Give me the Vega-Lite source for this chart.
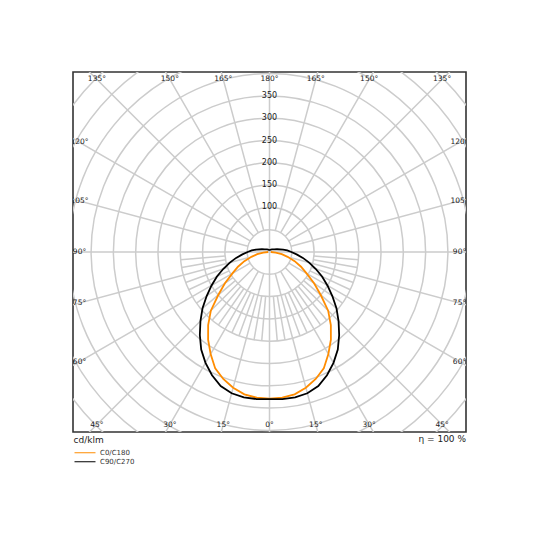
{
  "$schema": "https://vega.github.io/schema/vega-lite/v6.json",
  "width": 393,
  "height": 360,
  "autosize": {"type": "none"},
  "padding": {"left": 73, "top": 72, "right": 74, "bottom": 108},
  "background": "white",
  "title": {
    "text": "η = 100 %",
    "orient": "bottom",
    "anchor": "end",
    "frame": "group",
    "fontSize": 9,
    "fontWeight": "normal",
    "color": "#222222",
    "offset": -31
  },
  "config": {
    "font": "DejaVu Sans",
    "view": {"stroke": "#333333", "strokeWidth": 1.6}
  },
  "datasets": {
    "rings": [
      {"r": 50}, {"r": 100}, {"r": 150}, {"r": 200}, {"r": 250}, {"r": 300},
      {"r": 350}, {"r": 400}, {"r": 450}, {"r": 500}, {"r": 550}, {"r": 600}
    ],
    "spokes": [
      {"a": 0, "r0": 0, "r1": 650}, {"a": 15, "r0": 50, "r1": 650}, {"a": 30, "r0": 50, "r1": 650},
      {"a": 45, "r0": 50, "r1": 650}, {"a": 60, "r0": 50, "r1": 650}, {"a": 75, "r0": 50, "r1": 650},
      {"a": 90, "r0": 0, "r1": 650}, {"a": 95, "r0": 100, "r1": 200}, {"a": 100, "r0": 100, "r1": 200},
      {"a": 105, "r0": 50, "r1": 650}, {"a": 110, "r0": 100, "r1": 200}, {"a": 115, "r0": 100, "r1": 200},
      {"a": 120, "r0": 50, "r1": 650}, {"a": 125, "r0": 100, "r1": 200}, {"a": 130, "r0": 100, "r1": 200},
      {"a": 135, "r0": 50, "r1": 650}, {"a": 140, "r0": 100, "r1": 200}, {"a": 145, "r0": 100, "r1": 200},
      {"a": 150, "r0": 50, "r1": 650}, {"a": 155, "r0": 100, "r1": 200}, {"a": 160, "r0": 100, "r1": 200},
      {"a": 165, "r0": 50, "r1": 650}, {"a": 170, "r0": 100, "r1": 200}, {"a": 175, "r0": 100, "r1": 200},
      {"a": 180, "r0": 0, "r1": 650}, {"a": 185, "r0": 100, "r1": 200}, {"a": 190, "r0": 100, "r1": 200},
      {"a": 195, "r0": 50, "r1": 650}, {"a": 200, "r0": 100, "r1": 200}, {"a": 205, "r0": 100, "r1": 200},
      {"a": 210, "r0": 50, "r1": 650}, {"a": 215, "r0": 100, "r1": 200}, {"a": 220, "r0": 100, "r1": 200},
      {"a": 225, "r0": 50, "r1": 650}, {"a": 230, "r0": 100, "r1": 200}, {"a": 235, "r0": 100, "r1": 200},
      {"a": 240, "r0": 50, "r1": 650}, {"a": 245, "r0": 100, "r1": 200}, {"a": 250, "r0": 100, "r1": 200},
      {"a": 255, "r0": 50, "r1": 650}, {"a": 260, "r0": 100, "r1": 200}, {"a": 265, "r0": 100, "r1": 200},
      {"a": 270, "r0": 0, "r1": 650}, {"a": 285, "r0": 50, "r1": 650}, {"a": 300, "r0": 50, "r1": 650},
      {"a": 315, "r0": 50, "r1": 650}, {"a": 330, "r0": 50, "r1": 650}, {"a": 345, "r0": 50, "r1": 650}
    ],
    "ringLabels": [
      {"v": 100}, {"v": 150}, {"v": 200}, {"v": 250}, {"v": 300}, {"v": 350}
    ],
    "angleLabels": [
      {"label": "180°", "g": -180}, {"label": "165°", "g": -165}, {"label": "150°", "g": -150},
      {"label": "135°", "g": -135}, {"label": "120°", "g": -120}, {"label": "105°", "g": -105},
      {"label": "90°", "g": -90}, {"label": "75°", "g": -75}, {"label": "60°", "g": -60},
      {"label": "45°", "g": -45}, {"label": "30°", "g": -30}, {"label": "15°", "g": -15},
      {"label": "0°", "g": 0}, {"label": "15°", "g": 15}, {"label": "30°", "g": 30},
      {"label": "45°", "g": 45}, {"label": "60°", "g": 60}, {"label": "75°", "g": 75},
      {"label": "90°", "g": 90}, {"label": "105°", "g": 105}, {"label": "120°", "g": 120},
      {"label": "135°", "g": 135}, {"label": "150°", "g": 150}, {"label": "165°", "g": 165}
    ],
    "curves": [
      {"series": "C0/C180", "g": -90, "I": 3},
      {"series": "C0/C180", "g": -85, "I": 14},
      {"series": "C0/C180", "g": -80, "I": 28},
      {"series": "C0/C180", "g": -75, "I": 42},
      {"series": "C0/C180", "g": -70, "I": 60},
      {"series": "C0/C180", "g": -65, "I": 78},
      {"series": "C0/C180", "g": -60, "I": 96},
      {"series": "C0/C180", "g": -55, "I": 122},
      {"series": "C0/C180", "g": -50, "I": 150},
      {"series": "C0/C180", "g": -45, "I": 186},
      {"series": "C0/C180", "g": -40, "I": 214},
      {"series": "C0/C180", "g": -35, "I": 240},
      {"series": "C0/C180", "g": -30, "I": 264},
      {"series": "C0/C180", "g": -25, "I": 288},
      {"series": "C0/C180", "g": -20, "I": 303},
      {"series": "C0/C180", "g": -15, "I": 315},
      {"series": "C0/C180", "g": -10, "I": 324},
      {"series": "C0/C180", "g": -5, "I": 328},
      {"series": "C0/C180", "g": 0, "I": 329},
      {"series": "C0/C180", "g": 5, "I": 328},
      {"series": "C0/C180", "g": 10, "I": 324},
      {"series": "C0/C180", "g": 15, "I": 315},
      {"series": "C0/C180", "g": 20, "I": 303},
      {"series": "C0/C180", "g": 25, "I": 288},
      {"series": "C0/C180", "g": 30, "I": 264},
      {"series": "C0/C180", "g": 35, "I": 240},
      {"series": "C0/C180", "g": 40, "I": 214},
      {"series": "C0/C180", "g": 45, "I": 186},
      {"series": "C0/C180", "g": 50, "I": 150},
      {"series": "C0/C180", "g": 55, "I": 122},
      {"series": "C0/C180", "g": 60, "I": 96},
      {"series": "C0/C180", "g": 65, "I": 78},
      {"series": "C0/C180", "g": 70, "I": 60},
      {"series": "C0/C180", "g": 75, "I": 42},
      {"series": "C0/C180", "g": 80, "I": 28},
      {"series": "C0/C180", "g": 85, "I": 14},
      {"series": "C0/C180", "g": 90, "I": 3},
      {"series": "C90/C270", "g": -180, "I": 5},
      {"series": "C90/C270", "g": -165, "I": 5},
      {"series": "C90/C270", "g": -150, "I": 6},
      {"series": "C90/C270", "g": -135, "I": 8},
      {"series": "C90/C270", "g": -120, "I": 12},
      {"series": "C90/C270", "g": -110, "I": 18},
      {"series": "C90/C270", "g": -100, "I": 31},
      {"series": "C90/C270", "g": -95, "I": 40},
      {"series": "C90/C270", "g": -90, "I": 49},
      {"series": "C90/C270", "g": -85, "I": 61},
      {"series": "C90/C270", "g": -80, "I": 76},
      {"series": "C90/C270", "g": -75, "I": 92},
      {"series": "C90/C270", "g": -70, "I": 110},
      {"series": "C90/C270", "g": -65, "I": 130},
      {"series": "C90/C270", "g": -60, "I": 150},
      {"series": "C90/C270", "g": -55, "I": 172},
      {"series": "C90/C270", "g": -50, "I": 196},
      {"series": "C90/C270", "g": -45, "I": 219},
      {"series": "C90/C270", "g": -40, "I": 243},
      {"series": "C90/C270", "g": -35, "I": 267},
      {"series": "C90/C270", "g": -30, "I": 287},
      {"series": "C90/C270", "g": -25, "I": 305},
      {"series": "C90/C270", "g": -20, "I": 320},
      {"series": "C90/C270", "g": -15, "I": 328},
      {"series": "C90/C270", "g": -10, "I": 331},
      {"series": "C90/C270", "g": -5, "I": 331},
      {"series": "C90/C270", "g": 0, "I": 330},
      {"series": "C90/C270", "g": 5, "I": 331},
      {"series": "C90/C270", "g": 10, "I": 331},
      {"series": "C90/C270", "g": 15, "I": 328},
      {"series": "C90/C270", "g": 20, "I": 320},
      {"series": "C90/C270", "g": 25, "I": 305},
      {"series": "C90/C270", "g": 30, "I": 287},
      {"series": "C90/C270", "g": 35, "I": 267},
      {"series": "C90/C270", "g": 40, "I": 243},
      {"series": "C90/C270", "g": 45, "I": 219},
      {"series": "C90/C270", "g": 50, "I": 196},
      {"series": "C90/C270", "g": 55, "I": 172},
      {"series": "C90/C270", "g": 60, "I": 150},
      {"series": "C90/C270", "g": 65, "I": 130},
      {"series": "C90/C270", "g": 70, "I": 110},
      {"series": "C90/C270", "g": 75, "I": 92},
      {"series": "C90/C270", "g": 80, "I": 76},
      {"series": "C90/C270", "g": 85, "I": 61},
      {"series": "C90/C270", "g": 90, "I": 49},
      {"series": "C90/C270", "g": 95, "I": 40},
      {"series": "C90/C270", "g": 100, "I": 31},
      {"series": "C90/C270", "g": 110, "I": 18},
      {"series": "C90/C270", "g": 120, "I": 12},
      {"series": "C90/C270", "g": 135, "I": 8},
      {"series": "C90/C270", "g": 150, "I": 6},
      {"series": "C90/C270", "g": 165, "I": 5},
      {"series": "C90/C270", "g": 180, "I": 5}
    ]
  },
  "layer": [
    {
      "data": {"name": "rings"},
      "mark": {"type": "arc", "filled": false, "stroke": "#cccccc", "strokeWidth": 1.5, "theta": 0, "theta2": 6.2832, "clip": true},
      "encoding": {
        "radius": {"field": "r", "type": "quantitative", "stack": null, "scale": {"type": "linear", "domain": [0, 600], "range": [0, 267.6], "zero": true}}
      }
    },
    {
      "data": {"name": "spokes"},
      "mark": {"type": "arc", "filled": false, "stroke": "#cccccc", "strokeWidth": 1.5, "clip": true},
      "encoding": {
        "theta": {"field": "a", "type": "quantitative", "stack": null, "scale": {"type": "linear", "domain": [0, 360], "range": [0, 6.283185307179586]}},
        "theta2": {"field": "a"},
        "radius": {"field": "r0", "type": "quantitative", "stack": null, "scale": {"type": "linear", "domain": [0, 600], "range": [0, 267.6], "zero": true}},
        "radius2": {"field": "r1"}
      }
    },
    {
      "data": {"name": "ringLabels"},
      "mark": {"type": "text", "fontSize": 8, "color": "#1a1a1a", "align": "center", "baseline": "middle"},
      "encoding": {
        "theta": {"datum": 0, "type": "quantitative", "scale": {"type": "linear", "domain": [0, 360], "range": [0, 6.283185307179586]}},
        "radius": {"field": "v", "type": "quantitative", "stack": null, "scale": {"type": "linear", "domain": [0, 600], "range": [0, 267.6], "zero": true}},
        "text": {"field": "v", "type": "quantitative"}
      }
    },
    {
      "data": {"name": "angleLabels"},
      "transform": [
        {"calculate": "180 - datum.g", "as": "v"},
        {"calculate": "min(426 / abs(sin(datum.v * PI / 180)), 387 / abs(cos(datum.v * PI / 180)))", "as": "rr"}
      ],
      "mark": {"type": "text", "fontSize": 7.5, "color": "#1a1a1a", "align": "center", "baseline": "middle", "clip": true},
      "encoding": {
        "theta": {"field": "v", "type": "quantitative", "stack": null, "scale": {"type": "linear", "domain": [0, 360], "range": [0, 6.283185307179586]}},
        "radius": {"field": "rr", "type": "quantitative", "stack": null, "scale": {"type": "linear", "domain": [0, 600], "range": [0, 267.6], "zero": true}},
        "text": {"field": "label", "type": "nominal"}
      }
    },
    {
      "data": {"name": "curves"},
      "transform": [
        {"calculate": "datum.I * sin(datum.g * PI / 180)", "as": "x"},
        {"calculate": "-datum.I * cos(datum.g * PI / 180)", "as": "y"}
      ],
      "mark": {"type": "line", "strokeWidth": 1.8, "clip": true},
      "encoding": {
        "x": {
          "field": "x", "type": "quantitative",
          "scale": {"domain": [-440.6, 440.6], "nice": false, "zero": false},
          "axis": {
            "title": "cd/klm", "titleAnchor": "start", "titleAlign": "left", "titleFontSize": 9,
            "titleFontWeight": "normal", "titleColor": "#222222", "titlePadding": 3,
            "labels": false, "ticks": false, "domain": false, "grid": false
          }
        },
        "y": {
          "field": "y", "type": "quantitative",
          "scale": {"domain": [-403.6, 403.6], "nice": false, "zero": false},
          "axis": null
        },
        "order": {"field": "g", "type": "quantitative"},
        "color": {
          "field": "series", "type": "nominal",
          "scale": {"domain": ["C0/C180", "C90/C270"], "range": ["#ff8c00", "#000000"]},
          "legend": {
            "orient": "none", "legendX": 1, "legendY": 377, "title": null,
            "symbolType": "stroke", "symbolSize": 441, "symbolStrokeWidth": 1,
            "labelFontSize": 7, "labelColor": "#333333", "labelOffset": 4,
            "clipHeight": 7.5, "rowPadding": 0, "padding": 0
          }
        }
      }
    }
  ]
}
